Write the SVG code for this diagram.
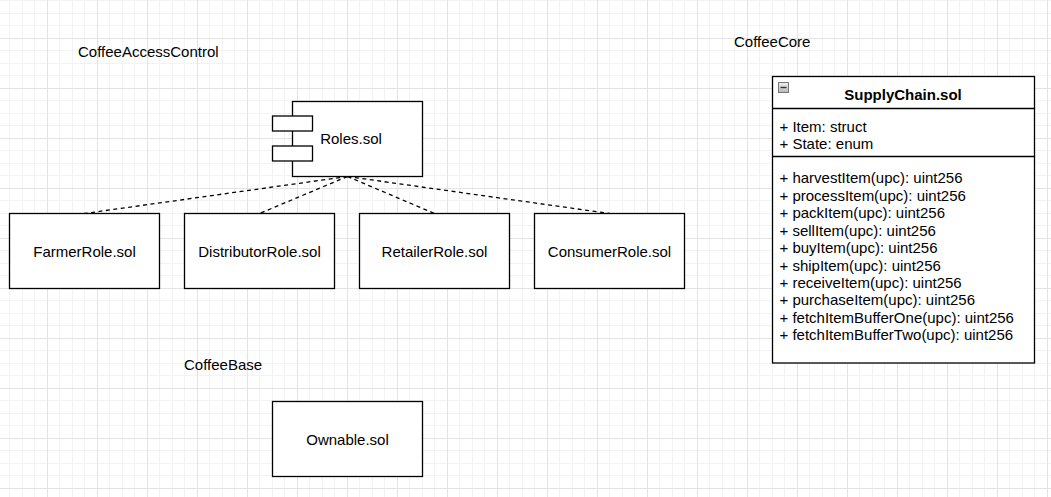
<svg xmlns="http://www.w3.org/2000/svg" width="1051" height="497" viewBox="0 0 1051 497">
<style>
.box{fill:#fff;stroke:#000;stroke-width:1.3}
.t{font-family:"Liberation Sans",Arial,sans-serif;font-size:15px;fill:#000}
.c{text-anchor:middle}
.b{font-weight:bold}
.dash{fill:none;stroke:#000;stroke-width:1.3;stroke-dasharray:4 3.5}
</style>
<defs>
<pattern id="grid" x="-3" y="-12" width="50" height="50" patternUnits="userSpaceOnUse">
<rect x="12" y="0" width="1" height="50" fill="#f3f3f3"/>
<rect x="25" y="0" width="1" height="50" fill="#f3f3f3"/>
<rect x="37" y="0" width="1" height="50" fill="#f3f3f3"/>
<rect x="0" y="12" width="50" height="1" fill="#f3f3f3"/>
<rect x="0" y="25" width="50" height="1" fill="#f3f3f3"/>
<rect x="0" y="37" width="50" height="1" fill="#f3f3f3"/>
<rect x="0" y="0" width="1" height="50" fill="#e3e3e3"/>
<rect x="0" y="0" width="50" height="1" fill="#e3e3e3"/>
</pattern>
<linearGradient id="ig" x1="0" y1="0" x2="0" y2="1">
<stop offset="0" stop-color="#f0f0f0"/>
<stop offset="1" stop-color="#b8b8b8"/>
</linearGradient>
</defs>
<rect width="1051" height="497" fill="#fff"/>
<rect width="1051" height="497" fill="url(#grid)"/>

<g id="labels">
<text class="t" x="78" y="57">CoffeeAccessControl</text>
<text class="t" x="734" y="47">CoffeeCore</text>
<text class="t" x="184" y="370">CoffeeBase</text>
</g>

<g id="connectors">
<line class="dash" x1="347.5" y1="176.5" x2="84.5" y2="213.5"/>
<line class="dash" x1="347.5" y1="176.5" x2="259.5" y2="213.5"/>
<line class="dash" x1="347.5" y1="176.5" x2="434.5" y2="213.5"/>
<line class="dash" x1="347.5" y1="176.5" x2="609.5" y2="213.5"/>
</g>

<g id="roles">
<rect class="box" x="292.5" y="101.5" width="130" height="75"/>
<rect class="box" x="272.5" y="116" width="40" height="15"/>
<rect class="box" x="272.5" y="146" width="40" height="15"/>
<text class="t c" x="351" y="143.5">Roles.sol</text>
</g>

<g id="farmer">
<rect class="box" x="9.5" y="213.5" width="150" height="75"/>
<text class="t c" x="84.5" y="256.5">FarmerRole.sol</text>
</g>
<g id="distributor">
<rect class="box" x="184.5" y="213.5" width="150" height="75"/>
<text class="t c" x="259.5" y="256.5">DistributorRole.sol</text>
</g>
<g id="retailer">
<rect class="box" x="359.5" y="213.5" width="150" height="75"/>
<text class="t c" x="434.5" y="256.5">RetailerRole.sol</text>
</g>
<g id="consumer">
<rect class="box" x="534.5" y="213.5" width="150" height="75"/>
<text class="t c" x="609.5" y="256.5">ConsumerRole.sol</text>
</g>

<g id="ownable">
<rect class="box" x="272.5" y="401.5" width="150" height="75"/>
<text class="t c" x="347.5" y="444.5">Ownable.sol</text>
</g>

<g id="supplychain">
<rect class="box" x="772.5" y="76.5" width="262" height="286.5"/>
<line x1="772.5" y1="108.5" x2="1034.5" y2="108.5" stroke="#000" stroke-width="1.3"/>
<line x1="772.5" y1="156.5" x2="1034.5" y2="156.5" stroke="#000" stroke-width="1.3"/>
<rect x="778.5" y="82.5" width="10" height="10" fill="url(#ig)" stroke="#777" stroke-width="1"/>
<line x1="780.5" y1="87.5" x2="786.5" y2="87.5" stroke="#333" stroke-width="1.4"/>
<text class="t c b" x="903" y="99.5">SupplyChain.sol</text>
<text class="t" x="779.5" y="131.5">+ Item: struct</text>
<text class="t" x="779.5" y="148.5">+ State: enum</text>
<text class="t" x="779.5" y="183.3">+ harvestItem(upc): uint256</text>
<text class="t" x="779.5" y="200.7">+ processItem(upc): uint256</text>
<text class="t" x="779.5" y="218.2">+ packItem(upc): uint256</text>
<text class="t" x="779.5" y="235.6">+ sellItem(upc): uint256</text>
<text class="t" x="779.5" y="253">+ buyItem(upc): uint256</text>
<text class="t" x="779.5" y="270.5">+ shipItem(upc): uint256</text>
<text class="t" x="779.5" y="287.9">+ receiveItem(upc): uint256</text>
<text class="t" x="779.5" y="305.4">+ purchaseItem(upc): uint256</text>
<text class="t" x="779.5" y="322.8">+ fetchItemBufferOne(upc): uint256</text>
<text class="t" x="779.5" y="340.3">+ fetchItemBufferTwo(upc): uint256</text>
</g>
</svg>
